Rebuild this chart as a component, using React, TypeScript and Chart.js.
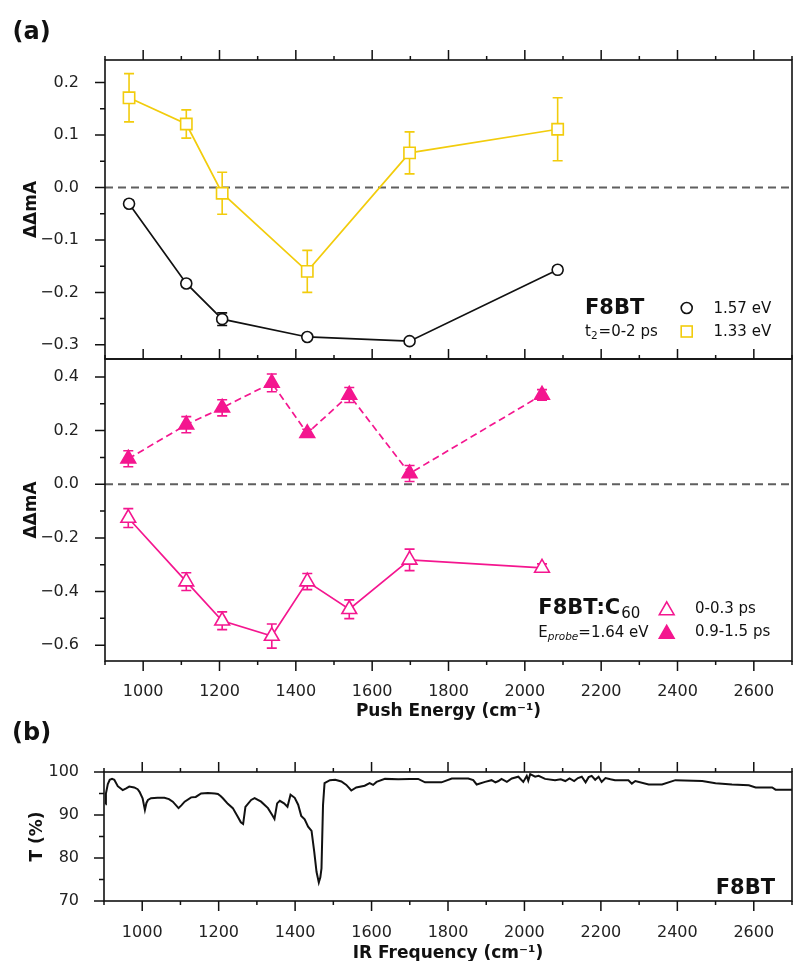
import React, { useEffect, useRef } from "react";
import { Chart, registerables } from "chart.js";

Chart.register(...registerables);

const FONT = "'DejaVu Sans', 'Liberation Sans', sans-serif";

// ---------- Panel (a), upper: F8BT ----------
const pushEnergyF8BT = [963, 1113, 1207, 1430, 1698, 2086];
const f8bt157eV = [-0.031, -0.183, -0.251, -0.285, -0.293, -0.157];
const f8bt157eVErr = [0.006, 0.006, 0.012, 0.006, 0.005, 0.006];
const f8bt133eV = [0.171, 0.121, -0.011, -0.16, 0.066, 0.111];
const f8bt133eVErr = [0.046, 0.027, 0.04, 0.04, 0.04, 0.06];

// ---------- Panel (a), lower: F8BT:C60 ----------
const pushEnergyC60 = [961, 1113, 1207, 1337, 1430, 1540, 1698, 2045];
const c60Early = [-0.126, -0.363, -0.509, -0.566, -0.363, -0.466, -0.282, -0.312];
const c60EarlyErr = [0.035, 0.033, 0.033, 0.045, 0.03, 0.035, 0.04, 0.015];
const c60Late = [0.095, 0.222, 0.285, 0.378, 0.19, 0.333, 0.04, 0.333];
const c60LateErr = [0.03, 0.03, 0.03, 0.033, 0.015, 0.028, 0.03, 0.02];

// ---------- Panel (b): IR spectrum ----------
const irFrequency = [
  904, 905, 910, 915, 921, 927, 936, 949, 958, 966, 979, 988, 993, 1001, 1007, 1011, 1015, 1023,
  1040, 1058, 1070, 1080, 1095, 1103, 1111, 1128, 1140, 1154, 1172, 1190, 1198, 1205, 1211, 1224,
  1237, 1250, 1258, 1264, 1270, 1285, 1294, 1311, 1329, 1340, 1346, 1353, 1360, 1371, 1380, 1388,
  1399, 1408, 1416, 1425, 1434, 1443, 1450, 1456, 1462, 1466, 1469, 1473, 1477, 1491, 1505, 1521,
  1534, 1547, 1560, 1582, 1595, 1604, 1613, 1635, 1670, 1700, 1722, 1740, 1783, 1810, 1853, 1866,
  1875, 1897, 1914, 1924, 1932, 1940, 1954, 1967, 1984, 1997, 2006, 2010, 2015, 2028, 2037, 2054,
  2080, 2095, 2107, 2118, 2130, 2140, 2150, 2160, 2168, 2176, 2185, 2194, 2202, 2212, 2225, 2237,
  2272, 2281, 2290, 2325, 2360, 2395, 2465, 2500, 2543, 2587, 2605, 2648, 2657, 2700,
];
const irTransmittance = [
  92.5, 95.0, 97.2, 98.2, 98.4, 98.2, 96.7, 95.8, 96.2, 96.6, 96.4, 96.0, 95.4, 93.9, 91.2, 92.8, 93.5, 93.9,
  94.0, 94.0, 93.7, 93.1, 91.6, 92.3, 93.1, 94.1, 94.2, 95.0, 95.1, 95.0, 94.9, 94.4, 93.9, 92.6,
  91.6, 89.6, 88.3, 87.9, 91.9, 93.5, 93.9, 93.1, 91.6, 90.0, 89.1, 92.7, 93.3, 92.7, 91.9, 94.7,
  94.0, 92.4, 89.8, 89.0, 87.3, 86.3, 81.5, 76.8, 74.3, 75.5, 77.6, 92.3, 97.4, 98.1, 98.2, 97.8,
  97.0, 95.7, 96.4, 96.8, 97.4, 97.0, 97.7, 98.4, 98.3, 98.4, 98.4, 97.6, 97.6, 98.5, 98.5, 98.1,
  97.1, 97.7, 98.1, 97.6, 97.9, 98.4, 97.7, 98.5, 98.9, 97.7, 99.1, 98.0, 99.5, 98.9, 99.1, 98.4,
  98.1, 98.3, 97.9, 98.5, 97.9, 98.6, 98.9, 97.6, 98.8, 99.1, 98.2, 98.9, 97.7, 98.6, 98.3, 98.1,
  98.1, 97.3, 97.9, 97.1, 97.1, 98.1, 97.9, 97.4, 97.1, 96.9, 96.4, 96.4, 95.9, 95.9,
];

// ---------- Ticks ----------
const xMajorTicks = [1000, 1200, 1400, 1600, 1800, 2000, 2200, 2400, 2600];
const xMinorTicks = [900, 1100, 1300, 1500, 1700, 1900, 2100, 2300, 2500, 2700];
const yTicksUpper = [-0.3, -0.2, -0.1, 0, 0.1, 0.2];
const yMinorUpper = [-0.25, -0.15, -0.05, 0.05, 0.15];
const yTicksLower = [-0.6, -0.4, -0.2, 0, 0.2, 0.4];
const yMinorLower = [-0.5, -0.3, -0.1, 0.1, 0.3];
const tTicks = [70, 80, 90, 100];
const tMinorTicks = [75, 85, 95];

const YELLOW = "#f2cc0c";
const PINK = "#f4168f";
const BLACK = "#111111";

const pts = (xs: number[], ys: number[]) => xs.map((x, i) => ({ x, y: ys[i] }));
const fmtSigned = (v: number) => {
  const s = Math.abs(v).toFixed(1);
  return v < -1e-9 ? "\u2212" + s : s;
};

function text(ctx: CanvasRenderingContext2D, s: string, x: number, y: number, font: string, align: CanvasTextAlign = "left") {
  ctx.font = font;
  ctx.textAlign = align;
  ctx.textBaseline = "alphabetic";
  ctx.fillText(s, x, y);
  return ctx.measureText(s).width;
}

function triangle(ctx: CanvasRenderingContext2D, x: number, y: number, r: number, filled: boolean) {
  const cy = y + r / 4;
  ctx.beginPath();
  ctx.moveTo(x, cy - r);
  ctx.lineTo(x + r * 0.866, cy + r / 2);
  ctx.lineTo(x - r * 0.866, cy + r / 2);
  ctx.closePath();
  ctx.lineWidth = 1.6;
  ctx.strokeStyle = PINK;
  ctx.fillStyle = filled ? PINK : "#fff";
  ctx.fill();
  ctx.stroke();
}

type PanelOpts = {
  id: string;
  top: boolean;
  bottom: boolean;
  yMajor: number[];
  yMinor: number[];
  zero?: boolean;
  errs?: { ds: number; err: number[]; color: string }[];
  draw?: (ctx: CanvasRenderingContext2D) => void;
};

function panelPlugin(o: PanelOpts) {
  return {
    id: o.id,
    beforeDatasetsDraw(chart: any) {
      const { ctx, chartArea: a, scales } = chart;
      const xs = scales.x;
      const ys = scales.y;
      ctx.save();
      if (o.zero) {
        const y0 = ys.getPixelForValue(0);
        ctx.strokeStyle = "#5f5f5f";
        ctx.lineWidth = 2;
        ctx.setLineDash([8, 5]);
        ctx.beginPath();
        ctx.moveTo(a.left, y0);
        ctx.lineTo(a.right, y0);
        ctx.stroke();
        ctx.setLineDash([]);
      }
      (o.errs || []).forEach((e) => {
        const data = chart.data.datasets[e.ds].data as { x: number; y: number }[];
        ctx.strokeStyle = e.color;
        ctx.lineWidth = 1.6;
        data.forEach((p, i) => {
          const x = xs.getPixelForValue(p.x);
          const y1 = ys.getPixelForValue(p.y + e.err[i]);
          const y2 = ys.getPixelForValue(p.y - e.err[i]);
          ctx.beginPath();
          ctx.moveTo(x, y1);
          ctx.lineTo(x, y2);
          ctx.moveTo(x - 5, y1);
          ctx.lineTo(x + 5, y1);
          ctx.moveTo(x - 5, y2);
          ctx.lineTo(x + 5, y2);
          ctx.stroke();
        });
      });
      ctx.restore();
    },
    afterDraw(chart: any) {
      const { ctx, chartArea: a, scales } = chart;
      const xs = scales.x;
      const ys = scales.y;
      ctx.save();
      ctx.strokeStyle = BLACK;
      ctx.lineWidth = 1.6;
      ctx.strokeRect(a.left, a.top, a.right - a.left, a.bottom - a.top);
      ctx.lineWidth = 1.5;
      ctx.beginPath();
      const xTick = (v: number, len: number) => {
        const px = xs.getPixelForValue(v);
        if (o.top) {
          ctx.moveTo(px, a.top);
          ctx.lineTo(px, a.top - len);
        }
        if (o.bottom) {
          ctx.moveTo(px, a.bottom);
          ctx.lineTo(px, a.bottom + len);
        }
      };
      xMajorTicks.forEach((v) => xTick(v, 10));
      xMinorTicks.forEach((v) => xTick(v, 4));
      const yTick = (v: number, len: number) => {
        const py = ys.getPixelForValue(v);
        ctx.moveTo(a.left, py);
        ctx.lineTo(a.left - len, py);
      };
      o.yMajor.forEach((v) => yTick(v, 10));
      o.yMinor.forEach((v) => yTick(v, 5));
      ctx.stroke();
      ctx.fillStyle = BLACK;
      if (o.draw) o.draw(ctx);
      ctx.restore();
    },
  };
}

const tickFont = { family: FONT, size: 16 };
const titleFont = { family: FONT, size: 17, weight: "bold" as const };

function yScale(min: number, max: number, major: number[], width: number, pad: number, title: string, titlePad: number, fmt: (v: number) => string) {
  return {
    type: "linear" as const,
    position: "left" as const,
    min,
    max,
    bounds: "data" as const,
    afterFit: (s: any) => {
      s.width = width;
    },
    afterBuildTicks: (s: any) => {
      s.ticks = major.map((v) => ({ value: v }));
    },
    grid: { display: false },
    border: { display: false },
    ticks: { font: tickFont, color: "#222", padding: pad, callback: (v: any) => fmt(Number(v)) },
    title: { display: true, text: title, color: BLACK, font: titleFont, padding: { top: titlePad, bottom: 0 } },
  };
}

function xScale(show: boolean, height: number, pad: number, title: string, titleFontExtra: any, titlePadBottom: number) {
  if (!show) {
    return { type: "linear" as const, min: 900, max: 2700, bounds: "data" as const, display: false };
  }
  return {
    type: "linear" as const,
    position: "bottom" as const,
    min: 900,
    max: 2700,
    bounds: "data" as const,
    afterFit: (s: any) => {
      s.height = height;
    },
    afterBuildTicks: (s: any) => {
      s.ticks = xMajorTicks.map((v) => ({ value: v }));
    },
    grid: { display: false },
    border: { display: false },
    ticks: { font: tickFont, color: "#222", padding: pad, maxRotation: 0, callback: (v: any) => String(v) },
    title: { display: true, text: title, color: BLACK, font: { ...titleFont, ...titleFontExtra }, padding: { top: 0, bottom: titlePadBottom } },
  };
}

const baseOptions = {
  responsive: false,
  animation: false as const,
  events: [] as any[],
  plugins: { legend: { display: false }, tooltip: { enabled: false } },
};

function configUpper(): any {
  return {
    type: "line",
    data: {
      datasets: [
        {
          data: pts(pushEnergyF8BT, f8bt157eV),
          borderColor: BLACK,
          borderWidth: 1.7,
          pointStyle: "circle",
          pointRadius: 5.5,
          pointBorderWidth: 1.6,
          pointBorderColor: BLACK,
          pointBackgroundColor: "#fff",
        },
        {
          data: pts(pushEnergyF8BT, f8bt133eV),
          borderColor: YELLOW,
          borderWidth: 1.7,
          pointStyle: "rect",
          pointRadius: 8,
          pointBorderWidth: 1.6,
          pointBorderColor: YELLOW,
          pointBackgroundColor: "#fff",
        },
      ],
    },
    options: {
      ...baseOptions,
      layout: { autoPadding: false, padding: { left: 0, right: 1, top: 60, bottom: 602 } },
      scales: {
        x: xScale(false, 0, 0, "", {}, 0),
        y: yScale(-0.327, 0.243, yTicksUpper, 105, 18, "ΔΔmA", 21.5, fmtSigned),
      },
    },
    plugins: [
      panelPlugin({
        id: "upperPanel",
        top: true,
        bottom: false,
        yMajor: yTicksUpper,
        yMinor: yMinorUpper,
        zero: true,
        errs: [
          { ds: 0, err: f8bt157eVErr, color: BLACK },
          { ds: 1, err: f8bt133eVErr, color: YELLOW },
        ],
        draw: (ctx) => {
          ctx.fillStyle = BLACK;
          text(ctx, "(a)", 12.5, 38.5, `bold 24px ${FONT}`);
          text(ctx, "F8BT", 585, 313.5, `bold 21px ${FONT}`);
          const w = text(ctx, "t", 585, 335.5, `15px ${FONT}`);
          const w2 = text(ctx, "2", 585 + w, 338.5, `10.5px ${FONT}`);
          text(ctx, "=0-2 ps", 585 + w + w2 + 1, 335.5, `15px ${FONT}`);
          text(ctx, "1.57 eV", 713.5, 313, `15px ${FONT}`);
          text(ctx, "1.33 eV", 713.5, 335.5, `15px ${FONT}`);
          ctx.lineWidth = 1.6;
          ctx.strokeStyle = BLACK;
          ctx.fillStyle = "#fff";
          ctx.beginPath();
          ctx.arc(686.7, 308, 5.5, 0, Math.PI * 2);
          ctx.fill();
          ctx.stroke();
          ctx.strokeStyle = YELLOW;
          ctx.strokeRect(681.2, 326, 11, 11);
        },
      }),
    ],
  };
}

function configLower(): any {
  return {
    type: "line",
    data: {
      datasets: [
        {
          data: pts(pushEnergyC60, c60Early),
          borderColor: PINK,
          borderWidth: 1.7,
          pointStyle: "triangle",
          pointRadius: 8.5,
          pointBorderWidth: 1.6,
          pointBorderColor: PINK,
          pointBackgroundColor: "#fff",
        },
        {
          data: pts(pushEnergyC60, c60Late),
          borderColor: PINK,
          borderWidth: 1.7,
          borderDash: [7, 4],
          pointStyle: "triangle",
          pointRadius: 8.5,
          pointBorderWidth: 1.6,
          pointBorderColor: PINK,
          pointBackgroundColor: PINK,
        },
      ],
    },
    options: {
      ...baseOptions,
      layout: { autoPadding: false, padding: { left: 0, right: 1, top: 359, bottom: 239 } },
      scales: {
        x: xScale(true, 61, 13, "Push Energy (cm⁻¹)", {}, 0),
        y: yScale(-0.659, 0.467, yTicksLower, 105, 18, "ΔΔmA", 21.5, fmtSigned),
      },
    },
    plugins: [
      panelPlugin({
        id: "lowerPanel",
        top: true,
        bottom: true,
        yMajor: yTicksLower,
        yMinor: yMinorLower,
        zero: true,
        errs: [
          { ds: 0, err: c60EarlyErr, color: PINK },
          { ds: 1, err: c60LateErr, color: PINK },
        ],
        draw: (ctx) => {
          ctx.fillStyle = BLACK;
          const w = text(ctx, "F8BT:C", 538.3, 613.5, `bold 21px ${FONT}`);
          text(ctx, "60", 538.3 + w + 1, 618, `15px ${FONT}`);
          const e = text(ctx, "E", 538.3, 636.5, `15px ${FONT}`);
          const p = text(ctx, "probe", 538.3 + e, 639.5, `italic 10.5px ${FONT}`);
          text(ctx, "=1.64 eV", 538.3 + e + p, 636.5, `15px ${FONT}`);
          text(ctx, "0-0.3 ps", 695, 612.5, `15px ${FONT}`);
          text(ctx, "0.9-1.5 ps", 695, 636, `15px ${FONT}`);
          triangle(ctx, 666.7, 608.3, 8.5, false);
          triangle(ctx, 666.7, 631.7, 8.5, true);
        },
      }),
    ],
  };
}

function configIR(): any {
  return {
    type: "line",
    data: {
      datasets: [
        {
          data: pts(irFrequency, irTransmittance),
          borderColor: BLACK,
          borderWidth: 2,
          pointRadius: 0,
          tension: 0,
        },
      ],
    },
    options: {
      ...baseOptions,
      layout: { autoPadding: false, padding: { left: 0, right: 1, top: 772, bottom: 0 } },
      scales: {
        x: xScale(true, 60, 14, "IR Frequency (cm⁻¹)", { lineHeight: 1 }, -1),
        y: yScale(70, 100, tTicks, 104, 17, "T (%)", 27, (v) => String(Math.round(v))),
      },
    },
    plugins: [
      panelPlugin({
        id: "irPanel",
        top: true,
        bottom: true,
        yMajor: tTicks,
        yMinor: tMinorTicks,
        draw: (ctx) => {
          ctx.fillStyle = BLACK;
          text(ctx, "(b)", 12, 740, `bold 24px ${FONT}`);
          text(ctx, "F8BT", 775, 893.5, `bold 21px ${FONT}`, "right");
        },
      }),
    ],
  };
}

export default function App() {
  const refA = useRef<HTMLCanvasElement>(null);
  const refB = useRef<HTMLCanvasElement>(null);
  const refC = useRef<HTMLCanvasElement>(null);

  useEffect(() => {
    const charts = [
      new Chart(refA.current as HTMLCanvasElement, configUpper()),
      new Chart(refB.current as HTMLCanvasElement, configLower()),
      new Chart(refC.current as HTMLCanvasElement, configIR()),
    ];
    return () => charts.forEach((c) => c.destroy());
  }, []);

  const cs: React.CSSProperties = { position: "absolute", left: 0, top: 0, width: 793, height: 961 };
  return (
    <div style={{ position: "absolute", left: 0, top: 0, width: 793, height: 961, background: "#fff", overflow: "hidden" }}>
      <canvas ref={refA} width={793} height={961} style={cs} />
      <canvas ref={refB} width={793} height={961} style={cs} />
      <canvas ref={refC} width={793} height={961} style={cs} />
    </div>
  );
}
